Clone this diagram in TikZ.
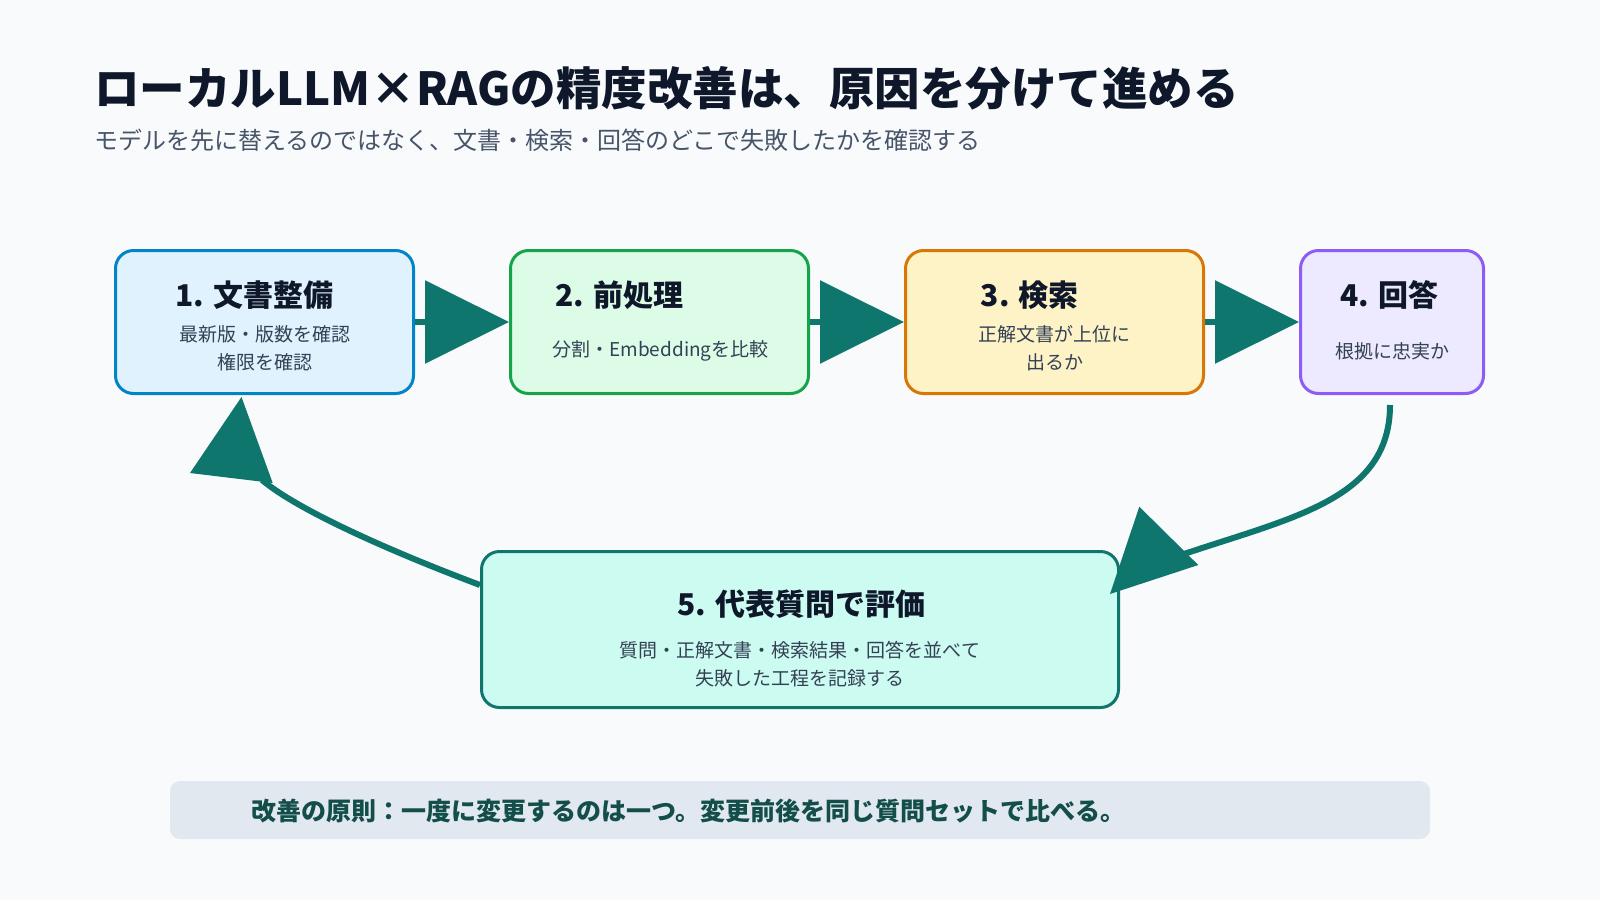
\documentclass[tikz,border=0pt]{standalone}
\usepackage{fontspec}
\setmainfont{Noto Sans CJK JP}
\usetikzlibrary{arrows.meta,calc}
\definecolor{bgc}{HTML}{F8FAFC}
\definecolor{titlec}{HTML}{0F172A}
\definecolor{subc}{HTML}{475569}
\definecolor{textc}{HTML}{334155}
\definecolor{flowc}{HTML}{0F766E}
\definecolor{fillA}{HTML}{E0F2FE}\definecolor{drawA}{HTML}{0284C7}
\definecolor{fillB}{HTML}{DCFCE7}\definecolor{drawB}{HTML}{16A34A}
\definecolor{fillC}{HTML}{FEF3C7}\definecolor{drawC}{HTML}{D97706}
\definecolor{fillD}{HTML}{EDE9FE}\definecolor{drawD}{HTML}{8B5CF6}
\definecolor{fillE}{HTML}{CCFBF1}\definecolor{drawE}{HTML}{0F766E}
\definecolor{footfill}{HTML}{E2E8F0}
\definecolor{footc}{HTML}{134E4A}
\tikzset{
  stepbox/.style={rounded corners=18pt, line width=3pt, minimum height=143pt, inner sep=0pt},
  boxtitle/.style={font=\fontsize{30}{36}\selectfont\bfseries, text=titlec, inner sep=0pt},
  boxtext/.style={font=\fontsize{19}{24}\selectfont, text=textc, inner sep=0pt},
  flow/.style={draw=flowc, line width=6pt},
  bigtip/.style={-{Triangle[length=84pt,width=82pt]}},
}
\begin{document}
\begin{tikzpicture}[x=1pt,y=-1pt]
\fill[bgc] (0,0) rectangle (1600,900);
\useasboundingbox (0,0) rectangle (1600,900);

% title
\node[anchor=west, inner sep=0pt, font=\fontsize{45.5}{54}\selectfont\bfseries, text=titlec] (ttl) at (94,88) {ローカルLLM×RAGの精度改善は、原因を分けて進める};
\node[anchor=west, inner sep=0pt, font=\fontsize{24}{28}\selectfont, text=subc] (sub) at (94,140.5) {モデルを先に替えるのではなく、文書・検索・回答のどこで失敗したかを確認する};

% boxes
\node[stepbox, draw=drawA, fill=fillA, minimum width=298pt] (b1) at (264.5,322) {};
\node[stepbox, draw=drawB, fill=fillB, minimum width=298pt] (b2) at (659.5,322) {};
\node[stepbox, draw=drawC, fill=fillC, minimum width=298pt] (b3) at (1054.5,322) {};
\node[stepbox, draw=drawD, fill=fillD, minimum width=183pt] (b4) at (1392,322) {};
\node[stepbox, draw=drawE, fill=fillE, minimum width=637pt, minimum height=156pt] (b5) at (800,629.5) {};

% box texts
\node[boxtitle, anchor=west] (t1) at (175.5,295) {1. 文書整備};
\node[boxtext] (s1a) at (265,334.7) {最新版・版数を確認};
\node[boxtext] (s1b) at (265,362.2) {権限を確認};

\node[boxtitle, anchor=west] (t2) at (555,295) {2. 前処理};
\node[boxtext] (s2) at (660.5,351) {分割・Embeddingを比較};

\node[boxtitle, anchor=west] (t3) at (980.6,295) {3. 検索};
\node[boxtext] (s3a) at (1054.5,334.7) {正解文書が上位に};
\node[boxtext] (s3b) at (1054.5,362.2) {出るか};

\node[boxtitle, anchor=west] (t4) at (1340,295) {4. 回答};
\node[boxtext] (s4) at (1392,351) {根拠に忠実か};

\node[boxtitle] (t5) at (801.5,604) {5. 代表質問で評価};
\node[boxtext] (s5a) at (800,650) {質問・正解文書・検索結果・回答を並べて};
\node[boxtext] (s5b) at (800,678.6) {失敗した工程を記録する};

% horizontal arrows
\draw[flow, bigtip] (b1.east) -- (b2.west);
\draw[flow, bigtip] (b2.east) -- (b3.west);
\draw[flow, bigtip] (b3.east) -- (b4.west);

% 4 -> 5 curve
\coordinate (c4s) at ($(b4.south)+(-2,10)$);
\coordinate (c4e) at (1178,556);
\draw[flow] (c4s) .. controls (1390,500) and (1291.6,517.4) .. (c4e);
\coordinate (tip5) at ($(b5.north east)+(-10,44)$);
\fill[flowc] (tip5) -- (1139.3,506.7) -- (1198.3,565) -- cycle;

% 5 -> 1 curve
\coordinate (c5s) at ($(b5.north west)+(0,35)$);
\coordinate (c5e) at (262,480);
\draw[flow] (c5s) .. controls (400,555) and (300,512) .. (c5e);
\coordinate (tip1) at ($(b1.south)+(-23,2)$);
\fill[flowc] (tip1) -- (190,473) -- (272.7,483) -- cycle;

% footer
\node[fill=footfill, rounded corners=10pt, minimum width=1260pt, minimum height=58pt, inner sep=0pt] (foot) at (800,810) {};
\node[anchor=west, inner sep=0pt, font=\fontsize{25}{30}\selectfont\bfseries, text=footc] (foottext) at (251,811) {改善の原則：一度に変更するのは一つ。変更前後を同じ質問セットで比べる。};
\end{tikzpicture}
\end{document}
